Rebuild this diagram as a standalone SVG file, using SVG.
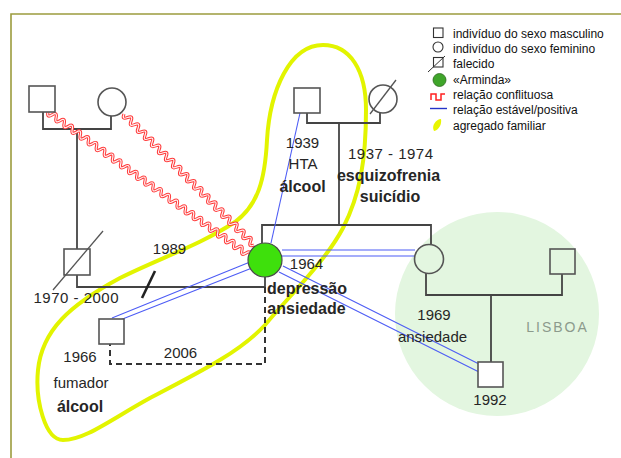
<svg xmlns="http://www.w3.org/2000/svg" width="621" height="458" viewBox="0 0 621 458">
<style>
  .t{font-family:"Liberation Sans",Arial,sans-serif;font-size:15px;fill:#262626;text-anchor:middle}
  .b{font-weight:bold;font-size:16px}
  .lg{font-family:"Liberation Sans",Arial,sans-serif;font-size:12px;fill:#111}
  .node{fill:#fff;stroke:#555;stroke-width:1.6}
  .nodeg{fill:none;stroke:#555;stroke-width:1.6}
  .kin{fill:none;stroke:#444;stroke-width:1.8}
  .blue{fill:none;stroke:#4d5cf5;stroke-width:1.1}
  .redo{fill:none;stroke:#ff3a3a;stroke-width:3.2}
  .redi{fill:none;stroke:#fff0f0;stroke-width:1.2}
</style>
<defs>
  <path id="confA" d="M48 112 q-1.46 6.33 4.04 2.88 t4.04 2.88 t4.04 2.88 t4.04 2.88 t4.04 2.88 t4.04 2.88 t4.04 2.88 t4.04 2.88 t4.04 2.88 t4.04 2.88 t4.04 2.88 t4.04 2.88 t4.04 2.88 t4.04 2.88 t4.04 2.88 t4.04 2.88 t4.04 2.88 t4.04 2.88 t4.04 2.88 t4.04 2.88 t4.04 2.88 t4.04 2.88 t4.04 2.88 t4.04 2.88 t4.04 2.88 t4.04 2.88 t4.04 2.88 t4.04 2.88 t4.04 2.88 t4.04 2.88 t4.04 2.88 t4.04 2.88 t4.04 2.88 t4.04 2.88 t4.04 2.88 t4.04 2.88 t4.04 2.88 t4.04 2.88 t4.04 2.88 t4.04 2.88 t4.04 2.88 t4.04 2.88 t4.04 2.88 t4.04 2.88 t4.04 2.88 t4.04 2.88 t4.04 2.88 t4.04 2.88 t4.04 2.88 t4.04 2.88"/>
  <path id="confB" d="M124 114 q-2.5 6 3.514 3.541 t3.514 3.541 t3.514 3.541 t3.514 3.541 t3.514 3.541 t3.514 3.541 t3.514 3.541 t3.514 3.541 t3.514 3.541 t3.514 3.541 t3.514 3.541 t3.514 3.541 t3.514 3.541 t3.514 3.541 t3.514 3.541 t3.514 3.541 t3.514 3.541 t3.514 3.541 t3.514 3.541 t3.514 3.541 t3.514 3.541 t3.514 3.541 t3.514 3.541 t3.514 3.541 t3.514 3.541 t3.514 3.541 t3.514 3.541 t3.514 3.541 t3.514 3.541 t3.514 3.541 t3.514 3.541 t3.514 3.541 t3.514 3.541 t3.514 3.541 t3.514 3.541 t3.514 3.541 t3.514 3.541"/>
</defs>
<rect width="621" height="458" fill="#fff"/>
<path d="M11 458 V14 H621" fill="none" stroke="#9c9c3e" stroke-width="1.6"/>
<circle id="lisboa-area" cx="497" cy="314" r="102" fill="#e3f6e0"/>
<text class="t" x="557.5" y="332" style="fill:#8c9a8c;font-size:14px;letter-spacing:2px">LISBOA</text>

<g id="household">
  <path d="M323 45 C350 45 366 70 366 110 C366 160 360 195 343 228 C325 262 290 295 265 325 C240 352 200 372 150 398 C110 420 85 440 63 440 C45 440 35 400 38 370 C42 330 70 305 120 278 C160 258 200 245 235 222 C258 205 265 180 267 140 C270 90 290 45 323 45 Z" fill="none" stroke="#e2f400" stroke-width="4"/>
</g>

<g id="connectors">
  <path class="kin" d="M43 112 V129 H111 V116"/>
  <path class="kin" d="M77 129 V249"/>
  <path class="kin" d="M77 275 V287 H265 V277"/>
  <path d="M142 298 L155 271" stroke="#222" stroke-width="2.6"/>
  <path d="M265 287 V364 H110 V344" fill="none" stroke="#333" stroke-width="2" stroke-dasharray="6 4"/>
  <path class="kin" d="M307 113 V123 H380 V113"/>
  <path class="kin" d="M339 123 V225"/>
  <path class="kin" d="M262 243 V225 H431 V245"/>
  <path class="kin" d="M426 273 V295 H562 V274"/>
  <path class="kin" d="M491 295 V362"/>
  <path class="blue" d="M300 113 L271 243"/>
  <path class="blue" d="M282 250 H415 M282 256 H414"/>
  <path class="blue" d="M283 266 L479 364 M279 272 L479 372"/>
  <path class="blue" d="M250 262 L112 318 M252 268 L120 320"/>
  <g id="conflicts">
    <use href="#confA" class="redo"/>
    <use href="#confB" class="redo"/>
    <use href="#confA" class="redi"/>
    <use href="#confB" class="redi"/>
  </g>
</g>

<g id="gf-husband"><rect class="node" x="29" y="86" width="26" height="26"/></g>
<g id="gm-husband"><circle class="node" cx="112" cy="102" r="14"/></g>
<g id="husband">
  <rect class="node" x="64" y="249" width="26" height="26"/>
  <path d="M53 290 L103 231" stroke="#555" stroke-width="1.3"/>
  <text class="t" x="76" y="303" textLength="85">1970 - 2000</text>
</g>
<text class="t" x="169.5" y="254">1989</text>
<text class="t" x="180.5" y="358">2006</text>
<g id="son">
  <rect class="node" x="99" y="319" width="25" height="25"/>
  <text class="t" x="80" y="362">1966</text>
  <text class="t" x="81" y="388">fumador</text>
  <text class="t b" x="80" y="412">álcool</text>
</g>
<g id="father">
  <rect class="node" x="294" y="88" width="26" height="25"/>
  <text class="t" x="302.5" y="148">1939</text>
  <text class="t" x="303" y="169">HTA</text>
  <text class="t b" x="302.5" y="192">álcool</text>
</g>
<g id="mother">
  <circle class="node" cx="383" cy="99" r="14"/>
  <path d="M370 114 L396 80" stroke="#555" stroke-width="1.3"/>
  <text class="t" x="390.5" y="159" textLength="85">1937 - 1974</text>
  <text class="t b" x="388.5" y="181">esquizofrenia</text>
  <text class="t b" x="390" y="202">suicídio</text>
</g>
<g id="arminda">
  <circle cx="265" cy="260" r="17" fill="#3ee00c" stroke="#4a4a4a" stroke-width="1.2"/>
  <text class="t" x="306.5" y="269">1964</text>
  <text class="t b" x="307" y="294">depressão</text>
  <text class="t b" x="306.5" y="314">ansiedade</text>
</g>
<g id="sister">
  <circle class="nodeg" cx="429" cy="259" r="14.5"/>
  <text class="t" x="434" y="320">1969</text>
  <text class="t" x="432.5" y="342">ansiedade</text>
</g>
<g id="brother-in-law"><rect class="nodeg" x="550" y="249" width="25" height="25"/></g>
<g id="nephew">
  <rect class="node" x="478" y="362" width="25" height="25"/>
  <text class="t" x="490" y="405">1992</text>
</g>

<g id="legend">
  <rect x="433.5" y="28" width="9.5" height="9.5" fill="none" stroke="#333" stroke-width="1.1"/>
  <text class="lg" x="453" y="38">indivíduo do sexo masculino</text>
  <circle cx="438" cy="47" r="5" fill="none" stroke="#333" stroke-width="1.1"/>
  <text class="lg" x="453" y="53">indivíduo do sexo feminino</text>
  <rect x="433.5" y="57.5" width="9.5" height="9.5" fill="none" stroke="#333" stroke-width="1.1"/>
  <path d="M428 72 L445 56" stroke="#333" stroke-width="1"/>
  <text class="lg" x="453" y="68">falecido</text>
  <circle cx="439.5" cy="80" r="6.5" fill="#3fa52a" stroke="#2d6a1e" stroke-width="0.8"/>
  <text class="lg" x="453" y="84">«Arminda»</text>
  <path d="M431 100 V94 H436 V100 H441 V94 H445" fill="none" stroke="#ff2020" stroke-width="1.5"/>
  <text class="lg" x="453" y="99">relação conflituosa</text>
  <path d="M430 108.5 H447" stroke="#2433c8" stroke-width="1.4"/>
  <text class="lg" x="453" y="114">relação estável/positiva</text>
  <path d="M434 131 C431 126 436 119 441 119 C442 124 439 130 434 131 Z" fill="#e8f500"/>
  <text class="lg" x="453" y="130">agregado familiar</text>
</g>
</svg>
